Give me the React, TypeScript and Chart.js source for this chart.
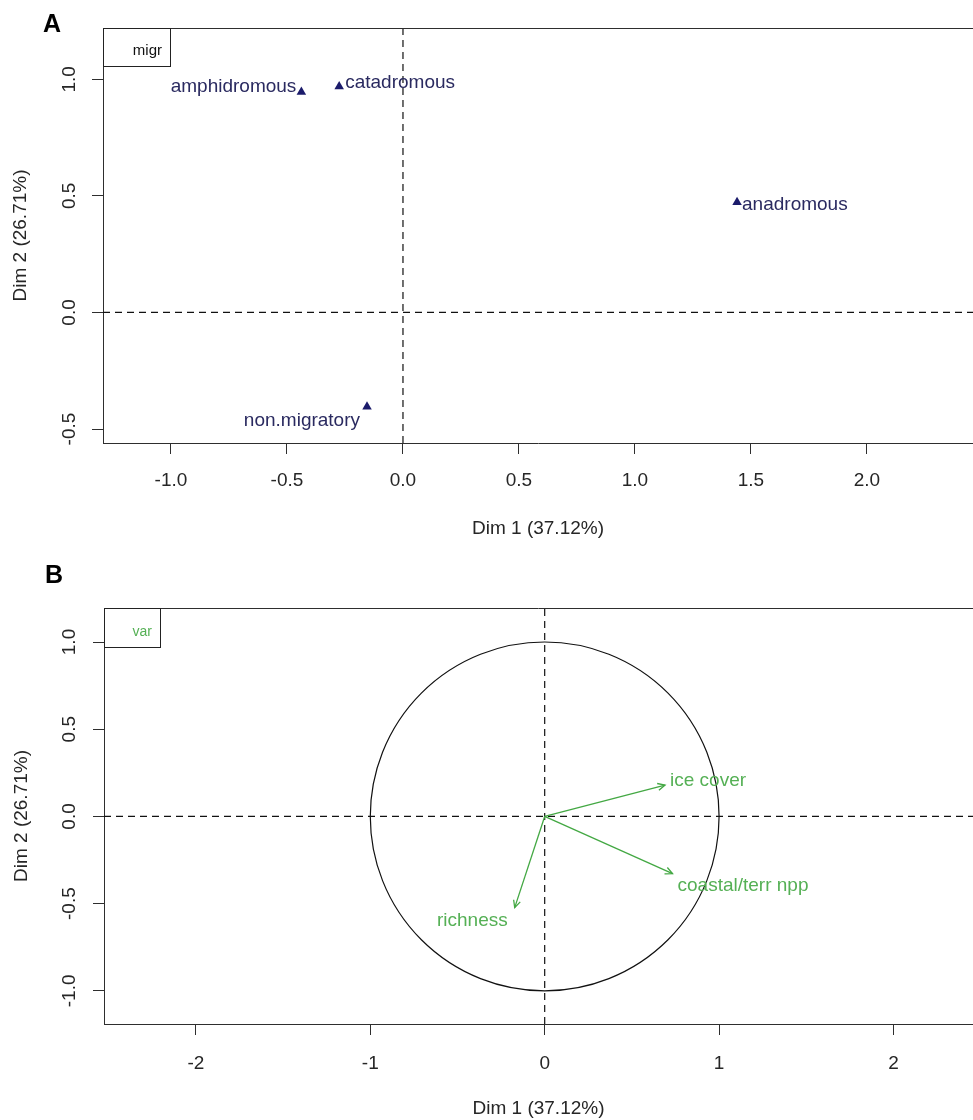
import { useEffect, useRef } from "react";
import { Chart, registerables } from "chart.js";

Chart.register(...registerables);

// ---------- Data ----------
const MIGR_LABELS = ["amphidromous", "catadromous", "anadromous", "non.migratory"];
const MIGR_DIM1 = [-0.438, -0.275, 1.44, -0.155];
const MIGR_DIM2 = [0.946, 0.969, 0.473, -0.404];

const VAR_LABELS = ["ice cover", "coastal/terr npp", "richness"];
const VAR_DIM1 = [0.69, 0.733, -0.172];
const VAR_DIM2 = [0.18, -0.328, -0.523];

const A_X_TICKS = [-1.0, -0.5, 0.0, 0.5, 1.0, 1.5, 2.0];
const A_Y_TICKS = [-0.5, 0.0, 0.5, 1.0];
const B_X_TICKS = [-2, -1, 0, 1, 2];
const B_Y_TICKS = [-1.0, -0.5, 0.0, 0.5, 1.0];

const A_X_RANGE = [-1.293, 2.457];
const A_Y_RANGE = [-0.56, 1.22];
const B_X_RANGE = [-2.527, 2.456];
const B_Y_RANGE = [-1.19, 1.195];

const X_TITLE = "Dim 1 (37.12%)";
const Y_TITLE = "Dim 2 (26.71%)";

// ---------- Styles ----------
const FONT = "'Liberation Sans', Arial, Helvetica, sans-serif";
const AXIS = "#2e2e2e";
const TEXT = "#262626";
const NAVY = "#1b1b6b";
const NAVY_TEXT = "#2a2a60";
const GREEN = "#43a843";
const GREEN_TEXT = "#55b055";

const MIGR_LABEL_STYLE = [
  { align: "right", dx: -5, dy: 0 },
  { align: "left", dx: 6, dy: 1 },
  { align: "left", dx: 5, dy: 8 },
  { align: "right", dx: -7, dy: 19 },
];
const VAR_LABEL_STYLE = [
  { align: "left", dx: 5, dy: 1 },
  { align: "left", dx: 5, dy: 17 },
  { align: "right", dx: -7, dy: 18 },
];

type PanelCfg = {
  letter: string;
  letterX: number;
  letterBaseline: number;
  legendText: string;
  legendColor: string;
  legendW: number;
  legendH: number;
  legendTextRight: number;
  legendBaselineOff: number;
  legendFont: number;
  padTop: number;
  yAxisWidth: number;
  xAxisHeight: number;
  xTickPad: number;
  xTitlePadBottom: number;
  yTitlePadTop: number;
  xRange: number[];
  yRange: number[];
  xTicks: number[];
  yTicks: number[];
  fmtX: (v: number) => string;
  fmtY: (v: number) => string;
  datasets: any[];
  extra: (chart: any) => void;
  before?: (chart: any) => void;
};

function makeDecor(cfg: PanelCfg) {
  return {
    id: "decor",
    beforeDatasetsDraw(chart: any) {
      if (cfg.before) cfg.before(chart);
    },
    afterDatasetsDraw(chart: any) {
      cfg.extra(chart);
    },
    afterDraw(chart: any) {
      const ctx = chart.ctx;
      const ca = chart.chartArea;
      const ys = chart.scales.y;
      ctx.save();
      // top border of the plot box
      ctx.strokeStyle = AXIS;
      ctx.lineWidth = 1;
      ctx.beginPath();
      ctx.moveTo(ca.left, Math.round(ca.top) + 0.5);
      ctx.lineTo(ca.right, Math.round(ca.top) + 0.5);
      ctx.stroke();
      // rotated y tick labels (parallel to axis)
      ctx.fillStyle = TEXT;
      ctx.font = `19px ${FONT}`;
      ctx.textAlign = "center";
      ctx.textBaseline = "alphabetic";
      for (const t of ys.ticks) {
        const py = ys.getPixelForValue(t.value);
        ctx.save();
        ctx.translate(75, py);
        ctx.rotate(-Math.PI / 2);
        ctx.fillText(cfg.fmtY(t.value), 0, 0);
        ctx.restore();
      }
      // legend box
      const lx = Math.round(ca.left) + 0.5;
      const ly = Math.round(ca.top) + 0.5;
      ctx.fillStyle = "#ffffff";
      ctx.fillRect(lx, ly, cfg.legendW, cfg.legendH);
      ctx.strokeStyle = "#222";
      ctx.strokeRect(lx, ly, cfg.legendW, cfg.legendH);
      ctx.fillStyle = cfg.legendColor;
      ctx.font = `${cfg.legendFont}px ${FONT}`;
      ctx.textAlign = "right";
      ctx.fillText(cfg.legendText, cfg.legendTextRight, ca.top + cfg.legendBaselineOff);
      // panel letter
      ctx.fillStyle = "#000";
      ctx.font = `bold 25px ${FONT}`;
      ctx.textAlign = "center";
      ctx.fillText(cfg.letter, cfg.letterX, cfg.letterBaseline);
      ctx.restore();
    },
  };
}

function makeChart(canvas: HTMLCanvasElement, cfg: PanelCfg) {
  return new Chart(canvas, {
    type: "scatter",
    data: { datasets: cfg.datasets },
    options: {
      responsive: false,
      animation: false,
      events: [],
      layout: {
        autoPadding: false,
        padding: { top: cfg.padTop, left: 0, right: 0, bottom: 0 },
      },
      plugins: {
        legend: { display: false },
        tooltip: { enabled: false },
        title: { display: false },
      },
      scales: {
        x: {
          type: "linear",
          position: "bottom",
          min: cfg.xRange[0],
          max: cfg.xRange[1],
          afterBuildTicks: (s: any) => {
            s.ticks = cfg.xTicks.map((v) => ({ value: v }));
          },
          afterFit: (s: any) => {
            s.height = cfg.xAxisHeight;
            s.paddingLeft = 0;
            s.paddingRight = 0;
          },
          ticks: {
            autoSkip: false,
            maxRotation: 0,
            minRotation: 0,
            padding: cfg.xTickPad,
            color: TEXT,
            font: { family: FONT, size: 19 },
            callback: (v: any) => cfg.fmtX(Number(v)),
          },
          grid: {
            drawOnChartArea: false,
            drawTicks: true,
            tickLength: 11,
            color: AXIS,
            lineWidth: 1,
          },
          border: { display: true, color: AXIS, width: 1 },
          title: {
            display: true,
            text: X_TITLE,
            color: TEXT,
            font: { family: FONT, size: 19 },
            padding: { top: 0, bottom: cfg.xTitlePadBottom },
          },
        },
        y: {
          type: "linear",
          position: "left",
          min: cfg.yRange[0],
          max: cfg.yRange[1],
          afterBuildTicks: (s: any) => {
            s.ticks = cfg.yTicks.map((v) => ({ value: v }));
          },
          afterFit: (s: any) => {
            s.width = cfg.yAxisWidth;
            s.paddingTop = 0;
            s.paddingBottom = 0;
          },
          ticks: { display: false },
          grid: {
            drawOnChartArea: false,
            drawTicks: true,
            tickLength: 11,
            color: AXIS,
            lineWidth: 1,
          },
          border: { display: true, color: AXIS, width: 1 },
          title: {
            display: true,
            text: Y_TITLE,
            color: TEXT,
            font: { family: FONT, size: 19 },
            padding: { top: cfg.yTitlePadTop, bottom: 0 },
          },
        },
      },
    } as any,
    plugins: [makeDecor(cfg)],
  });
}

function dashedLines(xr: number[], yr: number[]) {
  const common = {
    type: "line",
    showLine: true,
    borderColor: "#111",
    borderWidth: 1.2,
    borderDash: [7, 5],
    pointRadius: 0,
    fill: false,
  };
  return [
    { ...common, data: [{ x: xr[0], y: 0 }, { x: xr[1], y: 0 }] },
    { ...common, data: [{ x: 0, y: yr[0] }, { x: 0, y: yr[1] }] },
  ];
}

const fmt1 = (v: number) => v.toFixed(1);
const fmt0 = (v: number) => String(Math.round(v));

function panelA(): PanelCfg {
  const points = {
    data: MIGR_DIM1.map((x, i) => ({ x, y: MIGR_DIM2[i] })),
    pointStyle: "triangle",
    pointRadius: 5.5,
    backgroundColor: NAVY,
    borderColor: NAVY,
    borderWidth: 0,
  };
  return {
    letter: "A",
    letterX: 52,
    letterBaseline: 32,
    legendText: "migr",
    legendColor: "#111",
    legendW: 67,
    legendH: 38,
    legendTextRight: 162,
    legendBaselineOff: 27,
    legendFont: 15,
    padTop: 28,
    yAxisWidth: 103,
    xAxisHeight: 560 - 443,
    xTickPad: 15,
    xTitlePadBottom: 20,
    yTitlePadTop: 9,
    xRange: A_X_RANGE,
    yRange: A_Y_RANGE,
    xTicks: A_X_TICKS,
    yTicks: A_Y_TICKS,
    fmtX: fmt1,
    fmtY: fmt1,
    datasets: [points, ...dashedLines(A_X_RANGE, A_Y_RANGE)],
    extra: (chart: any) => {
      const ctx = chart.ctx;
      const xs = chart.scales.x;
      const ys = chart.scales.y;
      ctx.save();
      ctx.fillStyle = NAVY_TEXT;
      ctx.font = `19px ${FONT}`;
      ctx.textBaseline = "alphabetic";
      MIGR_LABELS.forEach((lab, i) => {
        const st = MIGR_LABEL_STYLE[i];
        const px = xs.getPixelForValue(MIGR_DIM1[i]);
        const py = ys.getPixelForValue(MIGR_DIM2[i]);
        ctx.textAlign = st.align;
        ctx.fillText(lab, px + st.dx, py + st.dy);
      });
      ctx.restore();
    },
  };
}

function panelB(): PanelCfg {
  const arrows = VAR_DIM1.map((x, i) => ({
    type: "line",
    showLine: true,
    data: [{ x: 0, y: 0 }, { x, y: VAR_DIM2[i] }],
    borderColor: GREEN,
    borderWidth: 1.3,
    pointRadius: 0,
    fill: false,
  }));
  return {
    letter: "B",
    letterX: 54,
    letterBaseline: 23,
    legendText: "var",
    legendColor: GREEN_TEXT,
    legendW: 56,
    legendH: 39,
    legendTextRight: 152,
    legendBaselineOff: 28,
    legendFont: 14,
    padTop: 48,
    yAxisWidth: 104,
    xAxisHeight: 560 - 464,
    xTickPad: 17,
    xTitlePadBottom: 0,
    yTitlePadTop: 10,
    xRange: B_X_RANGE,
    yRange: B_Y_RANGE,
    xTicks: B_X_TICKS,
    yTicks: B_Y_TICKS,
    fmtX: fmt0,
    fmtY: fmt1,
    datasets: [...arrows, ...dashedLines(B_X_RANGE, B_Y_RANGE)],
    before: (chart: any) => {
      // correlation circle of radius 1
      const ctx = chart.ctx;
      const xs = chart.scales.x;
      const ys = chart.scales.y;
      const cx = xs.getPixelForValue(0);
      const cy = ys.getPixelForValue(0);
      const rx = xs.getPixelForValue(1) - cx;
      const ry = cy - ys.getPixelForValue(1);
      ctx.save();
      ctx.strokeStyle = "#111";
      ctx.lineWidth = 1.2;
      ctx.beginPath();
      ctx.ellipse(cx, cy, rx, ry, 0, 0, Math.PI * 2);
      ctx.stroke();
      ctx.restore();
    },
    extra: (chart: any) => {
      const ctx = chart.ctx;
      const xs = chart.scales.x;
      const ys = chart.scales.y;
      const ox = xs.getPixelForValue(0);
      const oy = ys.getPixelForValue(0);
      ctx.save();
      ctx.strokeStyle = GREEN;
      ctx.lineWidth = 1.3;
      VAR_LABELS.forEach((lab, i) => {
        const px = xs.getPixelForValue(VAR_DIM1[i]);
        const py = ys.getPixelForValue(VAR_DIM2[i]);
        const ang = Math.atan2(py - oy, px - ox);
        const L = 8;
        const spread = Math.PI / 7;
        ctx.beginPath();
        ctx.moveTo(px - L * Math.cos(ang - spread), py - L * Math.sin(ang - spread));
        ctx.lineTo(px, py);
        ctx.lineTo(px - L * Math.cos(ang + spread), py - L * Math.sin(ang + spread));
        ctx.stroke();
        const st = VAR_LABEL_STYLE[i];
        ctx.fillStyle = GREEN_TEXT;
        ctx.font = `19px ${FONT}`;
        ctx.textBaseline = "alphabetic";
        ctx.textAlign = st.align;
        ctx.fillText(lab, px + st.dx, py + st.dy);
      });
      ctx.restore();
    },
  };
}

export default function App() {
  const refA = useRef<HTMLCanvasElement | null>(null);
  const refB = useRef<HTMLCanvasElement | null>(null);

  useEffect(() => {
    const charts: Chart[] = [];
    if (refA.current) charts.push(makeChart(refA.current, panelA()));
    if (refB.current) charts.push(makeChart(refB.current, panelB()));
    return () => charts.forEach((c) => c.destroy());
  }, []);

  return (
    <div
      style={{
        position: "absolute",
        left: 0,
        top: 0,
        width: 973,
        height: 1120,
        background: "#fff",
        overflow: "hidden",
      }}
    >
      <canvas
        ref={refA}
        width={973}
        height={560}
        style={{ position: "absolute", left: 0, top: 0, display: "block" }}
      />
      <canvas
        ref={refB}
        width={973}
        height={560}
        style={{ position: "absolute", left: 0, top: 560, display: "block" }}
      />
    </div>
  );
}
